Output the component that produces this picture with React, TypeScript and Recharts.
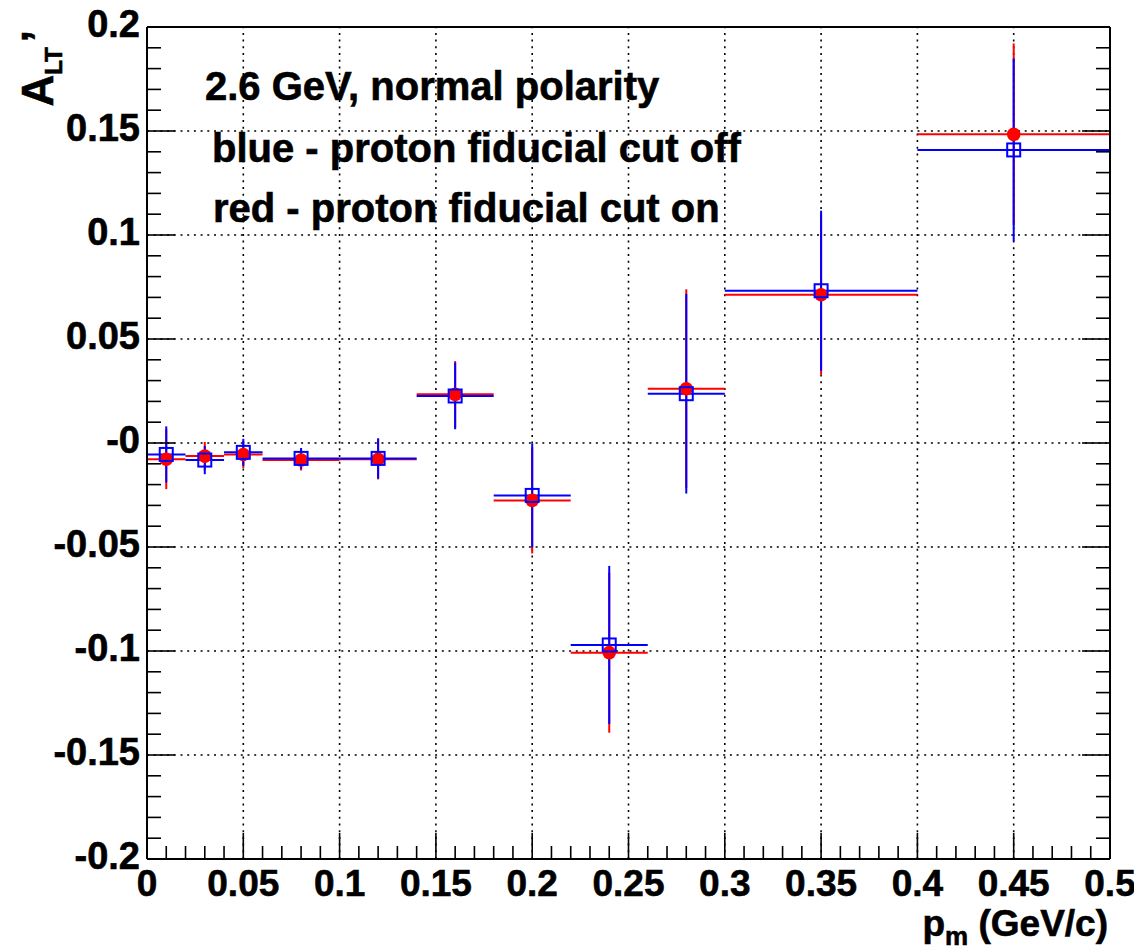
import { ScatterChart, Scatter, XAxis, YAxis, ErrorBar, ReferenceLine } from "recharts";

// p_m bins (GeV/c)
const binCenters = [0.01, 0.03, 0.05, 0.08, 0.12, 0.16, 0.2, 0.24, 0.28, 0.35, 0.45];
const binHalfWidths = [0.01, 0.01, 0.01, 0.02, 0.02, 0.02, 0.02, 0.02, 0.02, 0.05, 0.05];

// blue - proton fiducial cut off
const cutOffValues = [-0.0055, -0.0082, -0.0045, -0.0074, -0.0074, 0.0226, -0.0252, -0.0971, 0.0237, 0.0732, 0.1409];
const cutOffErrors = [0.0135, 0.0068, 0.0065, 0.005, 0.0097, 0.016, 0.025, 0.038, 0.048, 0.0385, 0.044];

// red - proton fiducial cut on
const cutOnValues = [-0.0078, -0.0063, -0.0055, -0.0082, -0.0078, 0.0234, -0.0276, -0.1008, 0.0261, 0.0713, 0.1484];
const cutOnErrors = [0.0144, 0.0068, 0.0065, 0.005, 0.0097, 0.016, 0.0255, 0.0385, 0.0478, 0.0385, 0.0437];

const xMajorTicks = [0, 0.05, 0.1, 0.15, 0.2, 0.25, 0.3, 0.35, 0.4, 0.45, 0.5];
const xTickLabels = ["0", "0.05", "0.1", "0.15", "0.2", "0.25", "0.3", "0.35", "0.4", "0.45", "0.5"];
const yMajorTicks = [-0.2, -0.15, -0.1, -0.05, 0, 0.05, 0.1, 0.15, 0.2];
const yTickLabels = ["-0.2", "-0.15", "-0.1", "-0.05", "-0", "0.05", "0.1", "0.15", "0.2"];

const FONT = "'Liberation Sans', Arial, Helvetica, sans-serif";
const BLUE = "#0000ff";
const RED = "#ff0000";

// 5 minor divisions per major step, like the ROOT axis
function withMinors(majors: number[], n = 5) {
  const out: number[] = [];
  majors.forEach((m, i) => {
    out.push(m);
    if (i < majors.length - 1) {
      for (let k = 1; k < n; k++) out.push(m + ((majors[i + 1] - m) * k) / n);
    }
  });
  return out;
}
const xAllTicks = withMinors(xMajorTicks);
const yAllTicks = withMinors(yMajorTicks);

const majorIndex = (majors: number[], v: number) => majors.findIndex((m) => Math.abs(m - v) < 1e-9);

const cutOff = binCenters.map((x, i) => ({ x, y: cutOffValues[i], ex: binHalfWidths[i], ey: cutOffErrors[i] }));
const cutOn = binCenters.map((x, i) => ({ x, y: cutOnValues[i], ex: binHalfWidths[i], ey: cutOnErrors[i] }));

// slight stroke to get closer to the heavy Helvetica bold of the original
const labelStyle = {
  fontFamily: FONT,
  fontWeight: "bold" as const,
  fill: "#000",
  stroke: "#000",
  strokeWidth: 0.6,
};

function BottomTick(props: any) {
  const { x, y, payload } = props;
  const i = majorIndex(xMajorTicks, payload.value);
  const len = i >= 0 ? 26 : 13;
  return (
    <g>
      <line x1={x} x2={x} y1={y} y2={y - len} stroke="#000" strokeWidth={1.6} />
      {i >= 0 && (
        <text x={x} y={y + 37} textAnchor="middle" fontSize={37} {...labelStyle}>
          {xTickLabels[i]}
        </text>
      )}
    </g>
  );
}

function TopTick(props: any) {
  const { x, y, payload } = props;
  const len = majorIndex(xMajorTicks, payload.value) >= 0 ? 26 : 13;
  return <line x1={x} x2={x} y1={y} y2={y + len} stroke="#000" strokeWidth={1.6} />;
}

function LeftTick(props: any) {
  const { x, y, payload } = props;
  const i = majorIndex(yMajorTicks, payload.value);
  const len = i >= 0 ? 28 : 14;
  return (
    <g>
      <line x1={x} x2={x + len} y1={y} y2={y} stroke="#000" strokeWidth={1.6} />
      {i >= 0 && (
        <text x={x - 7} y={y + 10} textAnchor="end" fontSize={38} {...labelStyle}>
          {yTickLabels[i]}
        </text>
      )}
    </g>
  );
}

function RightTick(props: any) {
  const { x, y, payload } = props;
  const len = majorIndex(yMajorTicks, payload.value) >= 0 ? 28 : 14;
  return <line x1={x} x2={x - len} y1={y} y2={y} stroke="#000" strokeWidth={1.6} />;
}

const openSquare = (props: any) => (
  <rect x={props.cx - 6.5} y={props.cy - 6.5} width={13} height={13} fill="none" stroke={BLUE} strokeWidth={2} />
);
const filledCircle = (props: any) => <circle cx={props.cx} cy={props.cy} r={6.8} fill={RED} />;
const noMarker = () => <g />;

const axisLine = { stroke: "#000", strokeWidth: 2 };

export default function App() {
  return (
    <div style={{ position: "relative", width: 1134, height: 943 }}>
      <ScatterChart width={1134} height={943} margin={{ top: 0, right: 30, bottom: 0, left: 0 }}>
        <XAxis
          xAxisId="b"
          type="number"
          dataKey="x"
          domain={[0, 0.5]}
          allowDataOverflow
          ticks={xAllTicks}
          interval={0}
          orientation="bottom"
          height={92}
          tickLine={false}
          tickSize={0}
          tickMargin={0}
          axisLine={axisLine}
          tick={<BottomTick />}
        />
        <XAxis
          xAxisId="t"
          type="number"
          domain={[0, 0.5]}
          allowDataOverflow
          ticks={xAllTicks}
          interval={0}
          orientation="top"
          height={19}
          tickLine={false}
          tickSize={0}
          tickMargin={0}
          axisLine={axisLine}
          tick={<TopTick />}
        />
        <YAxis
          yAxisId="l"
          type="number"
          dataKey="y"
          domain={[-0.2, 0.2]}
          allowDataOverflow
          ticks={yAllTicks}
          interval={0}
          width={139}
          tickLine={false}
          tickSize={0}
          tickMargin={0}
          axisLine={axisLine}
          tick={<LeftTick />}
        />
        <YAxis
          yAxisId="r"
          type="number"
          domain={[-0.2, 0.2]}
          allowDataOverflow
          ticks={yAllTicks}
          interval={0}
          orientation="right"
          width={2}
          tickLine={false}
          tickSize={0}
          tickMargin={0}
          axisLine={axisLine}
          tick={<RightTick />}
        />

        {xMajorTicks.slice(1, -1).map((v) => (
          <ReferenceLine key={`gx${v}`} x={v} xAxisId="b" yAxisId="l" stroke="#000" strokeWidth={1.6} strokeDasharray="2 4.7" />
        ))}
        {yMajorTicks.slice(1, -1).map((v) => (
          <ReferenceLine key={`gy${v}`} y={v} xAxisId="b" yAxisId="l" stroke="#000" strokeWidth={1.6} strokeDasharray="2 4.7" />
        ))}

        {/* error bars: red below blue */}
        <Scatter data={cutOn} xAxisId="b" yAxisId="l" shape={noMarker} isAnimationActive={false}>
          <ErrorBar dataKey="ex" direction="x" width={0} stroke={RED} strokeWidth={2} isAnimationActive={false} />
          <ErrorBar dataKey="ey" direction="y" width={0} stroke={RED} strokeWidth={2} isAnimationActive={false} />
        </Scatter>
        <Scatter data={cutOff} xAxisId="b" yAxisId="l" shape={noMarker} isAnimationActive={false}>
          <ErrorBar dataKey="ex" direction="x" width={0} stroke={BLUE} strokeWidth={2} isAnimationActive={false} />
          <ErrorBar dataKey="ey" direction="y" width={0} stroke={BLUE} strokeWidth={2} isAnimationActive={false} />
        </Scatter>
        {/* markers */}
        <Scatter data={cutOn} xAxisId="b" yAxisId="l" shape={filledCircle} isAnimationActive={false} />
        <Scatter data={cutOff} xAxisId="b" yAxisId="l" shape={openSquare} isAnimationActive={false} />
      </ScatterChart>

      <svg width={1134} height={943} style={{ position: "absolute", left: 0, top: 0, pointerEvents: "none" }}>
        <g fontFamily={FONT} fontWeight="bold" fill="#000" stroke="#000" strokeWidth={0.6} fontSize={40}>
          <text x={197} y={92}>2.6 GeV, normal polarity</text>
          <text x={204} y={154}>blue - proton fiducial cut off</text>
          <text x={205} y={214}>red - proton fiducial cut on</text>
        </g>
        <text x={1100} y={928} textAnchor="end" fontSize={37} {...labelStyle}>
          p
          <tspan fontSize={26} dy={9}>m</tspan>
          <tspan dy={-9}> (GeV/c)</tspan>
        </text>
        <text x={45} y={22} textAnchor="end" transform="rotate(-90, 45, 22)" fontSize={44} {...labelStyle}>
          A
          <tspan fontSize={24} dy={9}>LT</tspan>
          <tspan dy={-9} dx={5}>’</tspan>
        </text>
      </svg>
    </div>
  );
}
